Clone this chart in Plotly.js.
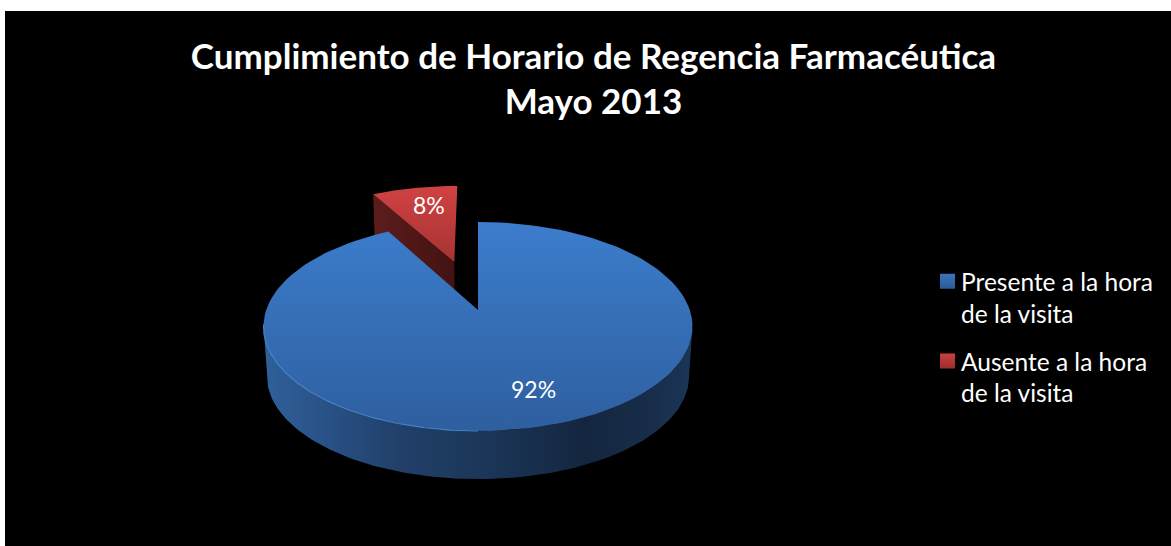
<!DOCTYPE html>
<html>
<head>
<meta charset="utf-8">
<script src="https://cdn.plot.ly/plotly-3.0.1.min.js"></script>
<style>
html,body{margin:0;padding:0;background:#fff;overflow:hidden}
#chart{position:absolute;left:5px;top:11px;width:1166px;height:535px}
#chart text{font-variant-ligatures:none}
</style>
</head>
<body>
<div id="chart"></div>
<script>
const categories = ["Presente a la hora de la visita", "Ausente a la hora de la visita"];
const legendLabels = ["Presente a la hora<br>de la visita", "Ausente a la hora<br>de la visita"];
const percentValues = [92, 8];
const chartTitle = "<b>Cumplimiento de Horario de Regencia Farmacéutica<br>Mayo 2013</b>";

const FONT = "Lato, Carlito, Calibri, sans-serif";
const rad = Math.PI / 180;
// projection of the tilted pie (perspective)
const K = 0.158;
const topDisc = {cx: 478, cy: 310, a: 211.8, b: 101.9};
const botDisc = {cx: 478, cy: 360, a: 208.4, b: 100.3};
function proj(d, s, c) {
  const den = 1 + K * c;
  return [d.cx + d.a * s / den, d.cy - d.b * c / den];
}
function rim(d, from, to, off) {
  const pts = [], n = 140;
  for (let i = 0; i <= n; i++) {
    const t = (from + (to - from) * i / n) * rad;
    pts.push(proj(d, Math.sin(t) + off[0], Math.cos(t) + off[1]));
  }
  return pts;
}
const xs = p => p.map(q => q[0]);
const ys = p => p.map(q => q[1]);

const blueSweep = percentValues[0] * 3.6;
const redSweep = percentValues[1] * 3.6;
const none = [0, 0];
const pull = 0.522, pullDir = -(redSweep / 2 - 1) * rad;
const redOff = [pull * Math.sin(pullDir), pull * Math.cos(pullDir)];

const blueTop = rim(topDisc, 0, blueSweep, none).concat([proj(topDisc, 0, 0)]);
blueTop.push(blueTop[0]);
const redArc = rim(topDisc, blueSweep, 360, redOff);
const redTop = redArc.concat([proj(topDisc, redOff[0], redOff[1])]);
redTop.push(redTop[0]);
const redWall = [proj(topDisc, redOff[0] + Math.sin(blueSweep * rad), redOff[1] + Math.cos(blueSweep * rad)),
                 proj(topDisc, redOff[0], redOff[1]),
                 proj(botDisc, redOff[0], redOff[1]),
                 proj(botDisc, redOff[0] + Math.sin(blueSweep * rad), redOff[1] + Math.cos(blueSweep * rad))];
redWall.push(redWall[0]);
const blueWall = rim(topDisc, 99, 261, none).concat(rim(botDisc, 261, 99, none));
blueWall.push(blueWall[0]);
const rimLight = rim(topDisc, 180, 262, none);

function face(p, name, grad) {
  return {type: "scatter", mode: "lines", x: xs(p), y: ys(p), fill: "toself", name: name,
          line: {width: 0, color: "rgba(0,0,0,0)"}, fillcolor: grad.colorscale[0][1], fillgradient: grad,
          showlegend: false, hoverinfo: "skip"};
}
const traces = [
  face(redWall, categories[1], {type: "horizontal", start: 375, stop: 456,
    colorscale: [[0, "#5c1c1c"], [1, "#421212"]]}),
  face(redTop, categories[1], {type: "vertical", start: 186, stop: 265,
    colorscale: [[0, "#d04242"], [1, "#a53232"]]}),
  face(blueWall, categories[0], {type: "horizontal", start: 264, stop: 693,
    colorscale: [[0, "#2f6099"], [0.12, "#2a548a"], [0.32, "#213f68"], [0.5, "#1b375a"], [0.75, "#14263f"], [0.92, "#182e4c"], [1, "#1c3657"]]}),
  face(blueTop, categories[0], {type: "vertical", start: 222, stop: 431,
    colorscale: [[0, "#3c7dcc"], [1, "#2e5f9f"]]}),
  {type: "scatter", mode: "lines", x: xs(rimLight), y: ys(rimLight), showlegend: false, hoverinfo: "skip",
   line: {color: "#4683cc", width: 1.2}},
  {type: "scatter", mode: "markers", x: [null], y: [null], name: legendLabels[0], legendgroup: "a",
   marker: {symbol: "square", size: 15, color: "#3a74bd", gradient: {type: "vertical", color: "#2c5b96"}}},
  {type: "scatter", mode: "markers", x: [null], y: [null], name: legendLabels[1], legendgroup: "b",
   marker: {symbol: "square", size: 15, color: "#cc4040", gradient: {type: "vertical", color: "#9a2e2e"}}}
];

const layout = {
  width: 1166, height: 535,
  margin: {l: 0, r: 0, t: 0, b: 0},
  paper_bgcolor: "#000", plot_bgcolor: "#000",
  title: {text: chartTitle, x: 0.5047, xanchor: "center", xref: "paper",
          y: 0.892, yanchor: "middle", yref: "container",
          font: {family: FONT, size: 35, color: "#fff"}},
  xaxis: {range: [5, 1171], visible: false, fixedrange: true},
  yaxis: {range: [546, 11], visible: false, fixedrange: true},
  legend: {x: 0.7856, xanchor: "left", y: 0.39, yanchor: "middle", bgcolor: "rgba(0,0,0,0)",
           font: {family: FONT, size: 24.5, color: "#fff"}, itemwidth: 30, tracegroupgap: 13},
  annotations: [
    {x: 533.5, y: 389, xref: "x", yref: "y", text: percentValues[0] + "%", showarrow: false,
     font: {family: FONT, size: 23, color: "#fff"}},
    {x: 428.5, y: 205, xref: "x", yref: "y", text: percentValues[1] + "%", showarrow: false,
     font: {family: FONT, size: 23, color: "#fff"}}
  ],
  hovermode: false
};
Plotly.newPlot("chart", traces, layout, {displayModeBar: false, staticPlot: true}).then(function (gd) {
  // legend keys sit next to the first text line, close to the label
  gd.querySelectorAll(".legend .legendsymbols").forEach(function (g) {
    g.setAttribute("transform", "translate(6.5,-16)");
  });
});
</script>
</body>
</html>
